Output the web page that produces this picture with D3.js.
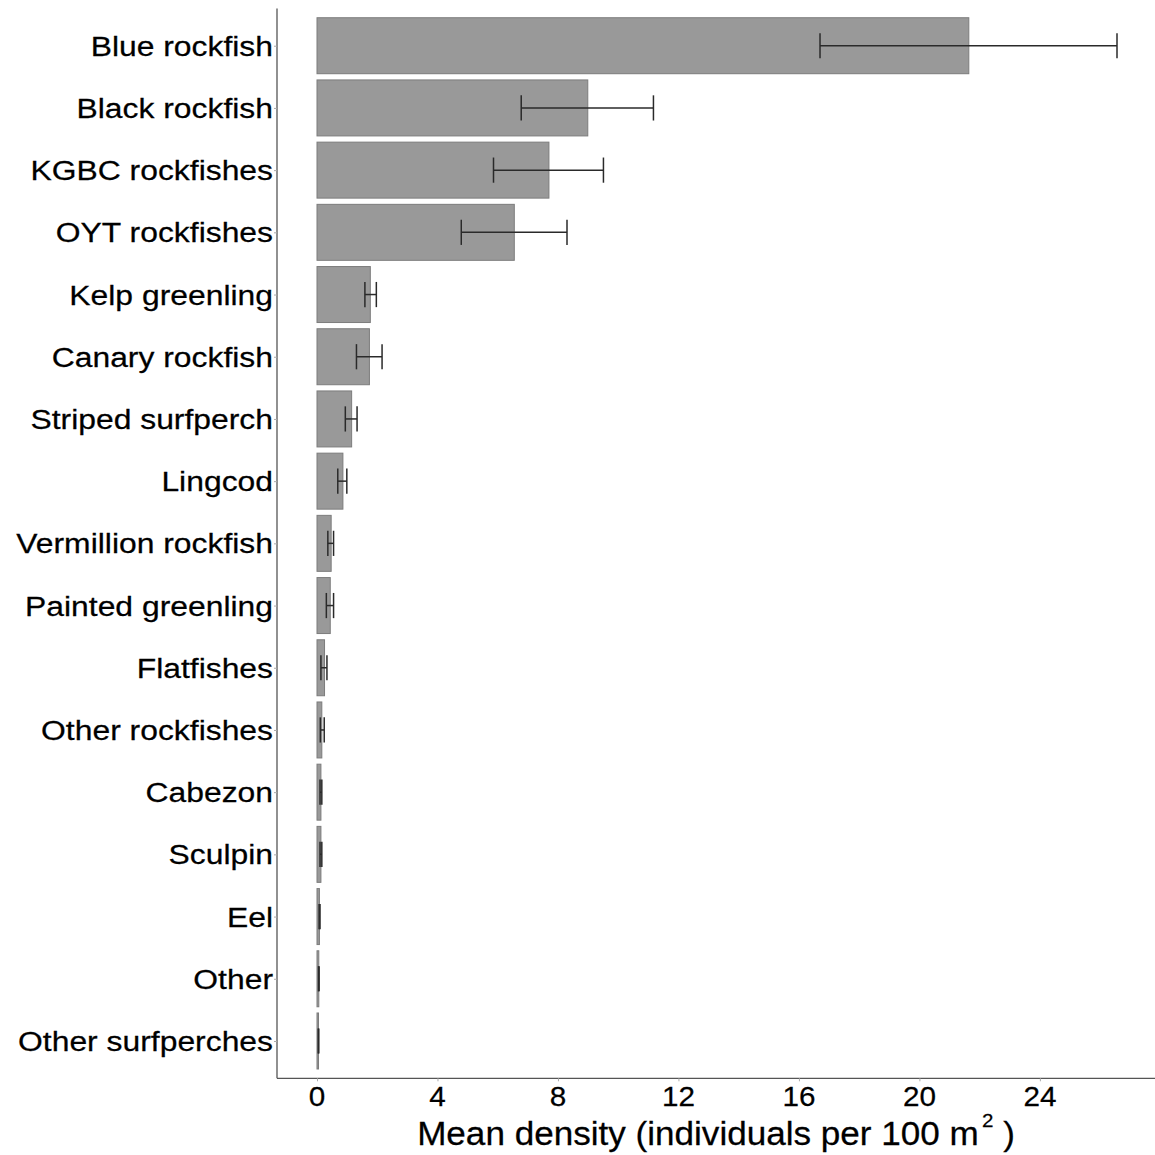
<!DOCTYPE html>
<html>
<head>
<meta charset="utf-8">
<script src="https://cdn.jsdelivr.net/npm/d3@7"></script>
<style>
  html, body { margin: 0; padding: 0; background: #ffffff; }
  svg { display: block; }
  text { font-family: "Liberation Sans", Arial, sans-serif; fill: #000; stroke: #000; stroke-width: 0.25; }
</style>
</head>
<body>
<svg id="chart" width="1155" height="1155"></svg>
<script>
// Species groups, ordered from most to least dense
const species = [
  "Blue rockfish", "Black rockfish", "KGBC rockfishes", "OYT rockfishes",
  "Kelp greenling", "Canary rockfish", "Striped surfperch", "Lingcod",
  "Vermillion rockfish", "Painted greenling", "Flatfishes", "Other rockfishes",
  "Cabezon", "Sculpin", "Eel", "Other", "Other surfperches"
];
// Mean density (individuals per 100 m^2)
const meanDensity = [21.64, 8.99, 7.70, 6.55, 1.77, 1.74, 1.15, 0.86, 0.47, 0.44, 0.25, 0.16, 0.13, 0.13, 0.08, 0.06, 0.05];
// Lower and upper ends of the error bars
const errLow  = [16.70, 6.78, 5.86, 4.79, 1.59, 1.31, 0.94, 0.69, 0.36, 0.31, 0.13, 0.11, 0.10, 0.10, 0.07, 0.05, 0.04];
const errHigh = [26.56, 11.17, 9.51, 8.30, 1.97, 2.16, 1.33, 0.99, 0.55, 0.55, 0.33, 0.24, 0.16, 0.16, 0.10, 0.07, 0.06];
const xTicks = [0, 4, 8, 12, 16, 20, 24];

const rows = species.map((s, i) => ({ name: s, mean: meanDensity[i], lo: errLow[i], hi: errHigh[i] }));

const svg = d3.select("#chart");
const panel = { left: 277, right: 1157, top: 8.4, bottom: 1078.3 };

// Continuous x scale with 5% padding on both sides of the data range
const dataMax = d3.max(errHigh);
const pad = dataMax * 0.05;
const x = d3.scaleLinear().domain([-pad, dataMax + pad]).range([panel.left, panel.right]);

// Discrete rows with 0.6-unit padding at the ends
const n = species.length;
const step = (panel.bottom - panel.top) / (n - 1 + 1.2);
const y = d3.scalePoint().domain(species).range([panel.top + 0.6 * step, panel.bottom - 0.6 * step]);
const barH = 0.9 * step;

// Bars
svg.append("g").selectAll("rect").data(rows).join("rect")
  .attr("x", x(0))
  .attr("y", d => y(d.name) - barH / 2)
  .attr("width", d => x(d.mean) - x(0))
  .attr("height", barH)
  .attr("fill", "#999999")
  .attr("stroke", "#7c7c7c")
  .attr("stroke-width", 1);

// Error bars
const capH = barH * 0.45;
const eb = svg.append("g").attr("stroke", "#2a2a2a").attr("stroke-width", 1.5).attr("fill", "none");
eb.selectAll("line.h").data(rows).join("line").attr("class", "h")
  .attr("x1", d => x(d.lo)).attr("x2", d => x(d.hi))
  .attr("y1", d => y(d.name)).attr("y2", d => y(d.name));
eb.selectAll("line.l").data(rows).join("line").attr("class", "l")
  .attr("x1", d => x(d.lo)).attr("x2", d => x(d.lo))
  .attr("y1", d => y(d.name) - capH / 2).attr("y2", d => y(d.name) + capH / 2);
eb.selectAll("line.r").data(rows).join("line").attr("class", "r")
  .attr("x1", d => x(d.hi)).attr("x2", d => x(d.hi))
  .attr("y1", d => y(d.name) - capH / 2).attr("y2", d => y(d.name) + capH / 2);

// Left axis
const yAxis = svg.append("g").attr("transform", `translate(${panel.left},0)`)
  .call(d3.axisLeft(y).tickSize(3).tickPadding(0).tickFormat(""));
yAxis.select(".domain").attr("d", `M0,${panel.top}V${panel.bottom}`).attr("stroke", "#555").attr("stroke-width", 1.3);
yAxis.selectAll(".tick line").attr("stroke", "#aaa");

svg.append("g").selectAll("text").data(species).join("text")
  .attr("transform", d => `translate(273,${y(d) + 10}) scale(1.13,1)`)
  .attr("text-anchor", "end")
  .attr("font-size", 28.2)
  .text(d => d);

// Bottom axis
const xAxis = svg.append("g").attr("transform", `translate(0,${panel.bottom})`)
  .call(d3.axisBottom(x).tickValues(xTicks).tickSize(3).tickFormat(""));
xAxis.select(".domain").attr("d", `M${panel.left},0H${panel.right}`).attr("stroke", "#555").attr("stroke-width", 1.3);
xAxis.selectAll(".tick line").attr("stroke", "#aaa");

svg.append("g").selectAll("text").data(xTicks).join("text")
  .attr("transform", d => `translate(${x(d)},1106) scale(1.06,1)`)
  .attr("text-anchor", "middle")
  .attr("font-size", 28)
  .text(d => d);

// Axis title with superscript
const title = svg.append("text")
  .attr("transform", `translate(${(panel.left + 1155) / 2},1145) scale(1.08,1)`)
  .attr("text-anchor", "middle")
  .attr("font-size", 32.5);
title.append("tspan").text("Mean density (individuals per 100 m");
title.append("tspan").attr("font-size", 19).attr("dy", -18).attr("dx", 3).text("2");
title.append("tspan").attr("dy", 18).text(" )");
</script>
</body>
</html>
